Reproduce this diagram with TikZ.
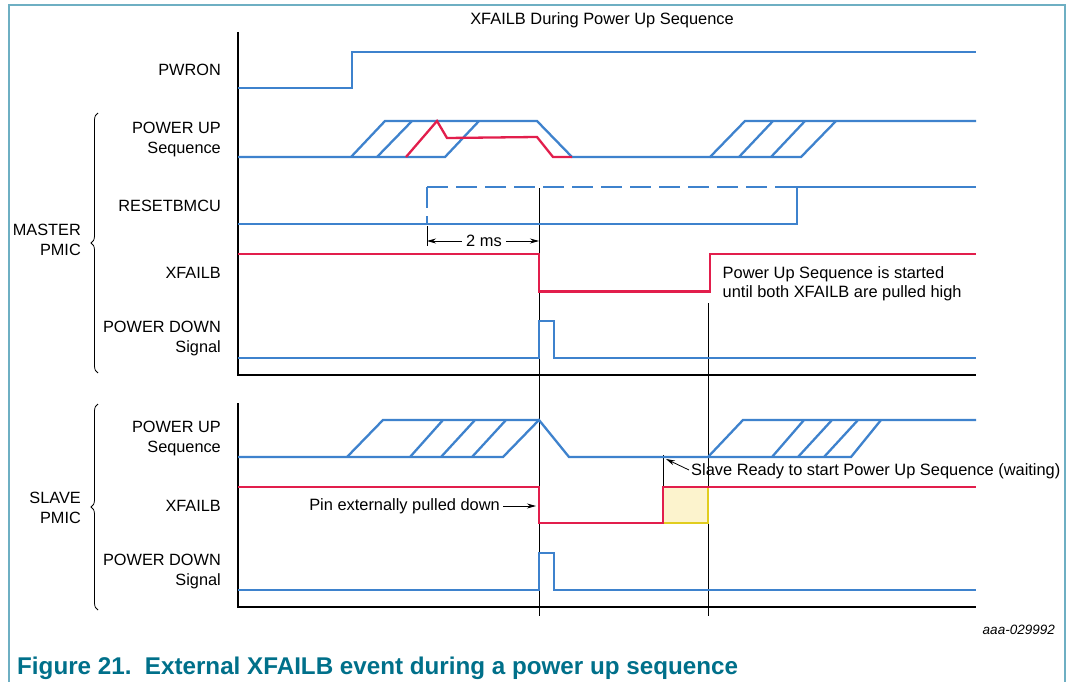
\documentclass[tikz,border=0pt]{standalone}
\usepackage{fontspec}
\setmainfont{Liberation Sans}
\usetikzlibrary{arrows.meta,decorations.pathreplacing}
\definecolor{sigblue}{RGB}{62,130,205}
\definecolor{sigred}{RGB}{226,30,76}
\definecolor{framecol}{RGB}{110,175,195}
\definecolor{capt}{RGB}{0,112,138}
\definecolor{boxfill}{RGB}{252,243,205}
\definecolor{boxedge}{RGB}{225,205,30}
\begin{document}
\begin{tikzpicture}[x=1pt,y=-1pt,
  sig/.style={sigblue,line width=2.3pt},
  sigr/.style={sigred,line width=2.3pt},
  axisline/.style={black,line width=1.3pt},
  timemark/.style={black,line width=0.8pt},
  lbl/.style={font=\fontsize{16.3}{19.5}\selectfont, anchor=east, align=right, inner sep=0pt},
  txt/.style={font=\fontsize{16.4}{19}\selectfont, inner sep=0pt},
  tipline/.style={-{Stealth[length=9pt,width=5pt]}, black, line width=0.8pt},
  bracestyle/.style={decorate, decoration={brace, amplitude=7pt}, line width=0.8pt},
  dashsig/.style={sig, dash pattern=on 21pt off 8pt}
]
\useasboundingbox (0,0) rectangle (1071,682);
\fill[white] (0,0) rectangle (1071,682);
\draw[framecol, line width=1.2pt] (9,682) -- (9,5) -- (1065,5) -- (1065,682);

% title
\node[txt] (title) at (602,20) {XFAILB During Power Up Sequence};

% labels
\node[lbl] (lpwron) at (221,70) {PWRON};
\node[lbl] (lmseq) at (221,139.5) {POWER UP\\Sequence};
\node[lbl] (lreset) at (221,206) {RESETBMCU};
\node[lbl] (lmx) at (221,272.7) {XFAILB};
\node[lbl] (lmpd) at (221,338.3) {POWER DOWN\\Signal};
\node[lbl] (lmaster) at (81,240) {MASTER\\PMIC};
\node[lbl] (lsseq) at (221,438.7) {POWER UP\\Sequence};
\node[lbl] (lsx) at (221,505.7) {XFAILB};
\node[lbl] (lspd) at (221,571.4) {POWER DOWN\\Signal};
\node[lbl] (lslave) at (81,508) {SLAVE\\PMIC};

% braces
\draw[bracestyle] (98,373) -- (98,113);
\draw[bracestyle] (98,610) -- (98,404);

% axes
\draw[axisline] (238,32) -- (238,375) -- (976,375);
\draw[axisline] (238,403) -- (238,607) -- (976,607);

% time markers
\draw[timemark] (539,188) -- (539,616);
\draw[timemark] (708,303) -- (708,616);
\draw[timemark] (663,455) -- (663,487);

% PWRON
\draw[sig] (238,88) -- (352,88) -- (352,52) -- (976,52);

% master power up sequence
\draw[sig] (238,157) -- (445,157) -- (479,121);
\draw[sig] (351,157) -- (385,121) -- (537,121) -- (572,157) -- (710,157) -- (745,121) -- (976,121);
\draw[sig] (377,157) -- (412,121);
\draw[sig] (710,157) -- (801,157) -- (836,121);
\draw[sig] (739,157) -- (773,121);
\draw[sig] (771,157) -- (805,121);
\draw[sigr] (406,157) -- (437,121) -- (447,138) -- (537,137) -- (553,157) -- (572,157);

% RESETBMCU
\draw[sig] (238,224) -- (797,224) -- (797,187) -- (976,187);
\draw[dashsig] (427,187) -- (797,187);
\draw[dashsig] (427,187) -- (427,224);

% 2 ms
\coordinate (t2a) at (427,241);
\coordinate (t2b) at (539,241);
\draw[timemark] (427,226) -- (427,246);
\node[txt, inner xsep=4.5pt] (twoms) at (484,241) {2 ms};
\draw[tipline] (twoms.west) -- (t2a);
\draw[tipline] (twoms.east) -- (t2b);

% master XFAILB
\draw[sigr] (238,254) -- (539,254) -- (539,291.5) -- (710,291.5) -- (710,254) -- (976,254);
\node[txt, anchor=west, align=left] (note) at (722.5,283.8) {Power Up Sequence is started\\until both XFAILB are pulled high};

% master power down
\draw[sig] (238,358) -- (539,358) -- (539,321) -- (554,321) -- (554,358) -- (976,358);

% slave power up sequence
\draw[sig] (238,457) -- (503,457) -- (539,420) -- (569,457) -- (708,457) -- (743,420) -- (976,420);
\draw[sig] (347,457) -- (383,420) -- (539,420);
\draw[sig] (410,457) -- (443,420);
\draw[sig] (441,457) -- (475,420);
\draw[sig] (472,457) -- (506,420);
\draw[sig] (708,457) -- (851,457) -- (881,420);
\draw[sig] (772,457) -- (804,420);
\draw[sig] (798,457) -- (832,420);
\draw[sig] (824,457) -- (858,420);

% slave XFAILB
\fill[boxfill] (663,487) rectangle (708,523);
\draw[boxedge, line width=2.3pt] (663,523) -- (708,523) -- (708,487);
\draw[sigr] (238,487) -- (539,487) -- (539,523) -- (663,523) -- (663,487) -- (976,487);

\node[txt, anchor=east] (pin) at (500,506) {Pin externally pulled down};
\coordinate (pintip) at (536,506);
\draw[tipline] ([xshift=3pt]pin.east) -- (pintip);

\node[txt, anchor=west] (ready) at (691,471) {Slave Ready to start Power Up Sequence (waiting)};
\coordinate (readytip) at (666,459);
\draw[tipline] ([xshift=-2pt,yshift=1pt]ready.west) -- (readytip);

% slave power down
\draw[sig] (238,590) -- (539,590) -- (539,553) -- (554,553) -- (554,590) -- (976,590);

% id and caption
\node[anchor=east, inner sep=0pt, font=\itshape\fontsize{13.5}{16}\selectfont] (fid) at (1055,630) {aaa-029992};
\node[anchor=west, inner sep=0pt, text=capt, font=\bfseries\fontsize{24.2}{28}\selectfont] (caption) at (17,668) {Figure 21.\ \ External XFAILB event during a power up sequence};
\end{tikzpicture}
\end{document}
